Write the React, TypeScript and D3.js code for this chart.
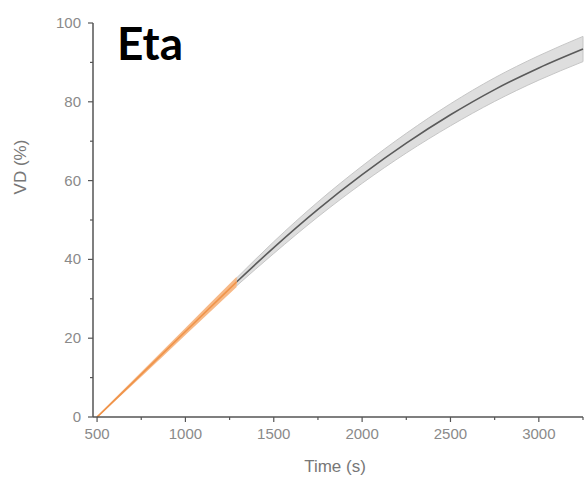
import React from "react";
import * as d3 from "d3";

// Measured range (orange) and model prediction (gray), VD in percent
const measuredTime = [500, 750, 1000, 1290];
const measuredVD = [0, 10.8, 21.7, 34.3];
const measuredSD = [0.2, 0.6, 0.9, 1.3];

const predictedTime = [1290, 1500, 1750, 2000, 2250, 2500, 2750, 3000, 3250];
const predictedVD = [34.3, 43.0, 52.7, 61.5, 69.5, 76.7, 83.1, 88.6, 93.4];
const predictedSD = [1.0, 1.5, 1.9, 2.2, 2.5, 2.8, 3.0, 3.1, 3.2];

const xTicks = [500, 1000, 1500, 2000, 2500, 3000];
const xMinorTicks = [750, 1250, 1750, 2250, 2750, 3250];
const yTicks = [0, 20, 40, 60, 80, 100];
const yMinorTicks = [10, 30, 50, 70, 90];

const title = "Eta";
const xLabel = "Time (s)";
const yLabel = "VD (%)";

export default function App() {
  const W = 586;
  const H = 486;
  const x = d3.scaleLinear().domain([477, 3250]).range([93, 583]);
  const y = d3.scaleLinear().domain([0, 100]).range([417, 23]);

  const toRows = (t: number[], v: number[], s: number[]) =>
    t.map((ti, i) => ({ t: ti, v: v[i], s: s[i] }));
  const measured = toRows(measuredTime, measuredVD, measuredSD);
  const predicted = toRows(predictedTime, predictedVD, predictedSD);

  type Row = { t: number; v: number; s: number };
  const line = d3
    .line<Row>()
    .x((d) => x(d.t))
    .y((d) => y(d.v))
    .curve(d3.curveMonotoneX);
  const band = d3
    .area<Row>()
    .x((d) => x(d.t))
    .y0((d) => y(d.v - d.s))
    .y1((d) => y(d.v + d.s))
    .curve(d3.curveMonotoneX);

  const axisColor = "#555";
  const tickText = "#8a8a8a";
  const font = "'Liberation Sans', Arial, sans-serif";

  return (
    <svg
      width={W}
      height={H}
      style={{ position: "absolute", left: 0, top: 0, background: "#fff" }}
    >
      {/* prediction band and mean */}
      <path d={band(predicted) ?? ""} fill="#dedede" stroke="#c6c6c6" strokeWidth={1} />
      <path d={line(predicted) ?? ""} fill="none" stroke="#5a5a5a" strokeWidth={1.6} />

      {/* measured band and mean */}
      <path d={band(measured) ?? ""} fill="#f7b987" stroke="none" />
      <path d={line(measured) ?? ""} fill="none" stroke="#f0944a" strokeWidth={1.6} />

      {/* axes */}
      <line x1={x.range()[0]} x2={x.range()[1]} y1={y(0)} y2={y(0)} stroke={axisColor} strokeWidth={1.5} />
      <line x1={x.range()[0]} x2={x.range()[0]} y1={y(0)} y2={y(100)} stroke={axisColor} strokeWidth={1.5} />

      {xTicks.map((t) => (
        <g key={"xt" + t}>
          <line x1={x(t)} x2={x(t)} y1={y(0)} y2={y(0) + 5} stroke={axisColor} strokeWidth={1.2} />
          <text x={x(t)} y={y(0) + 22} textAnchor="middle" fontFamily={font} fontSize={15} fill={tickText}>
            {t}
          </text>
        </g>
      ))}
      {xMinorTicks.map((t) => (
        <line key={"xm" + t} x1={x(t)} x2={x(t)} y1={y(0)} y2={y(0) + 3} stroke={axisColor} strokeWidth={1.2} />
      ))}
      {yTicks.map((v) => (
        <g key={"yt" + v}>
          <line x1={x.range()[0] - 5} x2={x.range()[0]} y1={y(v)} y2={y(v)} stroke={axisColor} strokeWidth={1.2} />
          <text x={x.range()[0] - 12} y={y(v) + 5} textAnchor="end" fontFamily={font} fontSize={15} fill={tickText}>
            {v}
          </text>
        </g>
      ))}
      {yMinorTicks.map((v) => (
        <line key={"ym" + v} x1={x.range()[0] - 3} x2={x.range()[0]} y1={y(v)} y2={y(v)} stroke={axisColor} strokeWidth={1.2} />
      ))}

      <text x={335} y={472} textAnchor="middle" fontFamily={font} fontSize={17} fill="#777">
        {xLabel}
      </text>
      <text
        transform={`translate(26,167) rotate(-90)`}
        textAnchor="middle"
        fontFamily={font}
        fontSize={17}
        fill="#777"
      >
        {yLabel}
      </text>

      <text x={117} y={60} fontFamily="Lato, 'Open Sans', sans-serif" fontWeight={700} fontSize={46} fill="#000">
        {title}
      </text>
    </svg>
  );
}
